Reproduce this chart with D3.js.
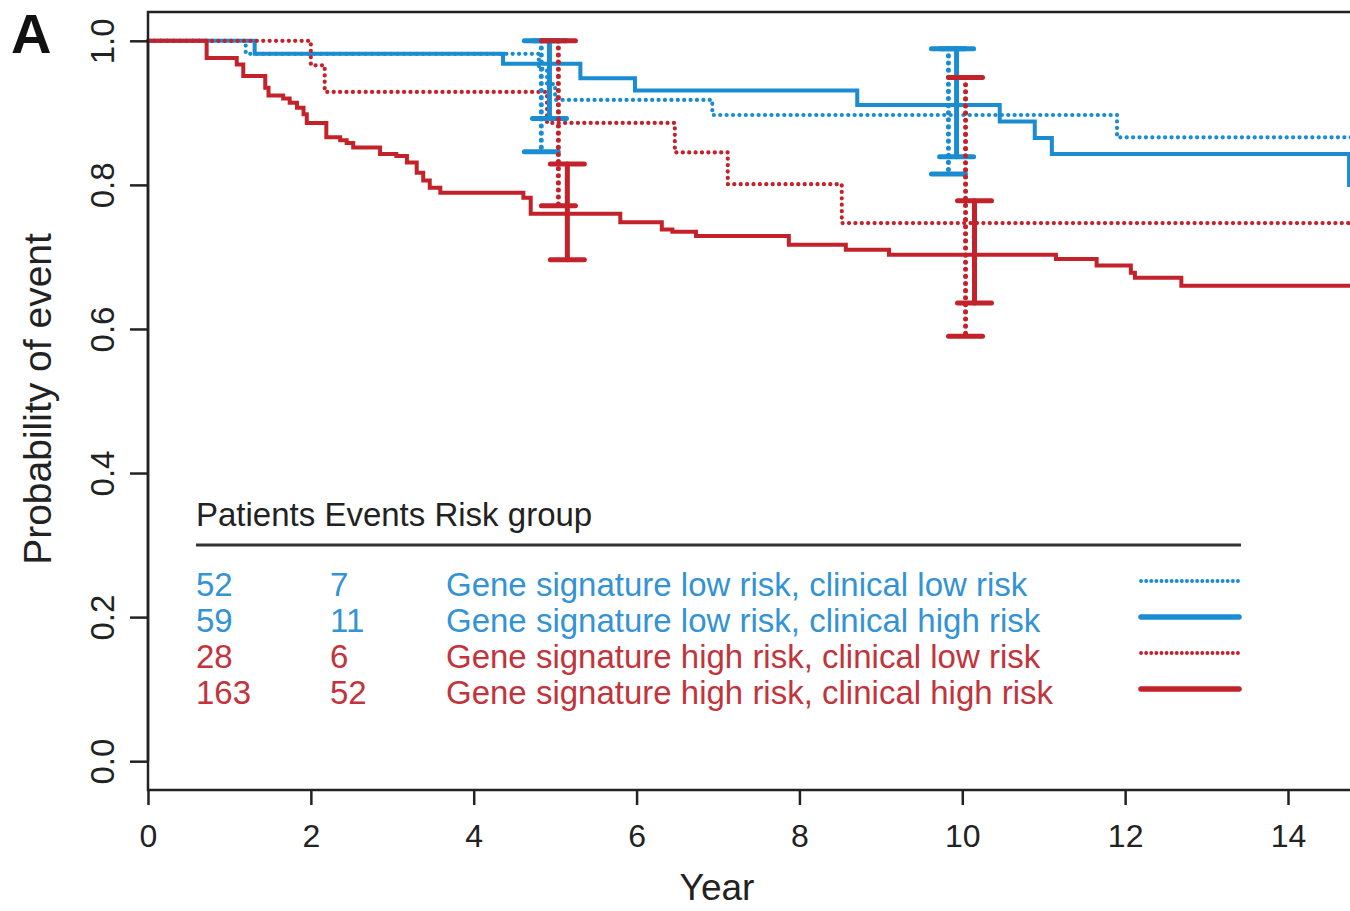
<!DOCTYPE html>
<html>
<head>
<meta charset="utf-8">
<script src="https://cdn.jsdelivr.net/npm/d3@7"></script>
<style>
  body { margin: 0; background: #fff; }
  svg { display: block; font-family: 'Liberation Sans', Arial, sans-serif; }
</style>
</head>
<body>
<svg id="chart"></svg>
<script>
// Kaplan-Meier step data (year of each step, value after the step)
var lowLowTimes = [0, 1.20, 4.80, 4.90, 5.00, 6.93, 11.90, 15];
var lowLowSurv  = [1, 0.982, 0.961, 0.940, 0.918, 0.897, 0.866, 0.866];

var lowHighTimes = [0, 1.31, 4.36, 5.31, 5.98, 8.71, 10.46, 10.89, 11.10, 14.75, 15];
var lowHighSurv  = [1, 0.982, 0.968, 0.948, 0.931, 0.911, 0.888, 0.865, 0.843, 0.800, 0.800];

var highLowTimes = [0, 2.00, 2.17, 4.90, 6.47, 7.12, 8.52, 15];
var highLowSurv  = [1, 0.966, 0.929, 0.886, 0.845, 0.801, 0.747, 0.747];

var highHighTimes = [0, 0.72, 1.09, 1.17, 1.44, 1.48, 1.66, 1.74, 1.83, 1.91,
    1.95, 2.19, 2.36, 2.44, 2.52, 2.85, 3.05, 3.18, 3.30, 3.38,
    3.46, 3.59, 4.61, 4.70, 5.80, 6.31, 6.44, 6.73, 7.87, 8.57,
    9.10, 11.15, 11.65, 12.07, 12.12, 12.69, 15];
var highHighSurv = [1, 0.976, 0.967, 0.951, 0.935, 0.924, 0.920, 0.914, 0.907, 0.898,
    0.886, 0.866, 0.862, 0.858, 0.852, 0.843, 0.840, 0.831, 0.817, 0.806,
    0.796, 0.789, 0.782, 0.760, 0.748, 0.738, 0.735, 0.729, 0.717, 0.710,
    0.703, 0.697, 0.688, 0.678, 0.671, 0.660, 0.660];

// confidence intervals at 5 and 10 years: [low, high]
var ciYears = [5, 10];
var lowLowCI   = [[0.846, 1.000], [0.815, 0.989]];
var lowHighCI  = [[0.892, 1.000], [0.839, 0.989]];
var highLowCI  = [[0.771, 1.000], [0.590, 0.949]];
var highHighCI = [[0.696, 0.829], [0.636, 0.778]];

// legend table
var groupNames = [
    'Gene signature low risk, clinical low risk',
    'Gene signature low risk, clinical high risk',
    'Gene signature high risk, clinical low risk',
    'Gene signature high risk, clinical high risk'
];
var patients = [52, 59, 28, 163];
var events = [7, 11, 6, 52];

var xTicks = [0, 2, 4, 6, 8, 10, 12, 14];
var yTicks = [0, 0.2, 0.4, 0.6, 0.8, 1.0];

(function (d3) {
    'use strict';
    var width = 1350, height = 911;
    var blue = '#1a8cd2', red = '#c4222b',
        blueText = '#3393d5', redText = '#c2343c';

    var series = [
        { times: lowLowTimes, surv: lowLowSurv, ci: lowLowCI, color: blue, text: blueText, dotted: true, off: -0.17 },
        { times: lowHighTimes, surv: lowHighSurv, ci: lowHighCI, color: blue, text: blueText, dotted: false, off: -0.07 },
        { times: highLowTimes, surv: highLowSurv, ci: highLowCI, color: red, text: redText, dotted: true, off: 0.04 },
        { times: highHighTimes, surv: highHighSurv, ci: highHighCI, color: red, text: redText, dotted: false, off: 0.15 }
    ];

    var x = d3.scaleLinear().domain([0, 14]).range([148, 1288]),
        y = d3.scaleLinear().domain([-0.04, 1.04]).range([790, 12]);

    var svg = d3.select('#chart')
        .attr('width', width)
        .attr('height', height);

    // curves
    var line = d3.line()
        .x(function (d) { return x(d[0]); })
        .y(function (d) { return y(d[1]); })
        .curve(d3.curveStepAfter);

    series.forEach(function (s) {
        var pts = s.times.map(function (t, i) { return [t, s.surv[i]]; });
        svg.append('path')
            .attr('d', line(pts))
            .attr('fill', 'none')
            .attr('stroke', s.color)
            .attr('stroke-width', s.dotted ? 4.2 : 4)
            .attr('stroke-linecap', s.dotted ? 'round' : 'butt')
            .attr('stroke-dasharray', s.dotted ? '0.1,6.3' : null);
    });

    // confidence interval bars
    series.forEach(function (s) {
        ciYears.forEach(function (yr, j) {
            var cx = x(yr + s.off),
                lo = s.ci[j][0], hi = s.ci[j][1];
            svg.append('line')
                .attr('x1', cx).attr('x2', cx)
                .attr('y1', y(hi)).attr('y2', y(lo))
                .attr('stroke', s.color)
                .attr('stroke-width', s.dotted ? 5 : 5)
                .attr('stroke-linecap', 'round')
                .attr('stroke-dasharray', s.dotted ? '0.1,7' : null);
            [lo, hi].forEach(function (v) {
                svg.append('line')
                    .attr('x1', cx - 17).attr('x2', cx + 17)
                    .attr('y1', y(v)).attr('y2', y(v))
                    .attr('stroke', s.color)
                    .attr('stroke-width', 5)
                    .attr('stroke-linecap', 'round');
            });
        });
    });

    // plot frame
    svg.append('rect')
        .attr('x', 148).attr('y', 12)
        .attr('width', 1400).attr('height', 778)
        .attr('fill', 'none')
        .attr('stroke', '#222')
        .attr('stroke-width', 2.5);

    // y axis
    var yAxis = svg.append('g')
        .attr('transform', 'translate(148,0)')
        .call(d3.axisLeft(y).tickValues(yTicks).tickSize(18).tickSizeOuter(0).tickFormat(d3.format('.1f')));
    yAxis.select('.domain').attr('stroke', '#222').attr('stroke-width', 2.5)
        .attr('d', 'M0,' + y(0) + 'V' + y(1));
    yAxis.selectAll('.tick line').attr('stroke', '#222').attr('stroke-width', 2.5);
    yAxis.selectAll('.tick text')
        .attr('transform', 'rotate(-90)')
        .attr('x', 0).attr('y', -34).attr('dy', 0)
        .attr('text-anchor', 'middle')
        .attr('fill', '#222')
        .style('font-size', '33px')
        .style('font-family', "'Liberation Sans', Arial, sans-serif");

    // x axis
    var xAxis = svg.append('g')
        .attr('transform', 'translate(0,790)')
        .call(d3.axisBottom(x).tickValues(xTicks).tickSize(15).tickSizeOuter(0).tickFormat(d3.format('d')));
    xAxis.select('.domain').remove();
    xAxis.selectAll('.tick line').attr('stroke', '#222').attr('stroke-width', 2.5);
    xAxis.selectAll('.tick text')
        .attr('y', 57).attr('dy', 0)
        .attr('fill', '#222')
        .style('font-size', '32px')
        .style('font-family', "'Liberation Sans', Arial, sans-serif");

    // axis titles
    svg.append('text')
        .attr('x', 717).attr('y', 900)
        .attr('text-anchor', 'middle')
        .attr('fill', '#222')
        .style('font-size', '37px')
        .text('Year');

    svg.append('text')
        .attr('transform', 'translate(51,399) rotate(-90)')
        .attr('text-anchor', 'middle')
        .attr('fill', '#222')
        .style('font-size', '39px')
        .text('Probability of event');

    svg.append('text')
        .attr('x', 11).attr('y', 53)
        .attr('fill', '#111')
        .style('font-size', '56px')
        .style('font-weight', 'bold')
        .text('A');

    // legend table
    var legend = svg.append('g');
    legend.append('text')
        .attr('x', 196).attr('y', 526)
        .attr('fill', '#222')
        .style('font-size', '33px')
        .text('Patients Events Risk group');
    legend.append('line')
        .attr('x1', 196).attr('x2', 1241)
        .attr('y1', 545).attr('y2', 545)
        .attr('stroke', '#333')
        .attr('stroke-width', 3);

    var rows = legend.selectAll('.row')
        .data(series)
        .enter()
        .append('g')
        .attr('class', 'row')
        .attr('transform', function (d, i) { return 'translate(0,' + (596 + i * 36) + ')'; });

    rows.append('text').attr('x', 196)
        .attr('fill', function (d) { return d.text; })
        .style('font-size', '33px')
        .text(function (d, i) { return patients[i]; });
    rows.append('text').attr('x', 330)
        .attr('fill', function (d) { return d.text; })
        .style('font-size', '33px')
        .text(function (d, i) { return events[i]; });
    rows.append('text').attr('x', 446)
        .attr('fill', function (d) { return d.text; })
        .style('font-size', '33px')
        .text(function (d, i) { return groupNames[i]; });
    rows.append('line')
        .attr('x1', 1141).attr('x2', 1239)
        .attr('y1', -15).attr('y2', -15)
        .attr('stroke', function (d) { return d.color; })
        .attr('stroke-width', function (d) { return d.dotted ? 3.8 : 5.5; })
        .attr('stroke-linecap', 'round')
        .attr('stroke-dasharray', function (d) { return d.dotted ? '0.1,5' : null; });
})(window.d3);
</script>
</body>
</html>
